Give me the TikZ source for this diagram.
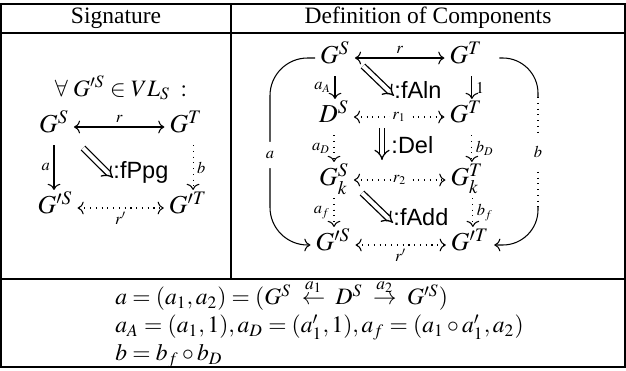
\documentclass[tikz,border=0pt]{standalone}
\usepackage{amsmath}
\usepackage{mathptmx}
\usepackage[no-math]{fontspec}
\setmainfont{Liberation Serif}
\setsansfont{Liberation Sans}
\usetikzlibrary{positioning,arrows.meta,calc}

\begin{document}
\begin{tikzpicture}[
  x=0.4255pt, y=-0.4255pt,
  rule/.style={line width=0.45pt},
  obj/.style={font=\fontsize{11}{13}\selectfont, inner sep=2pt,
              text height=8pt, text depth=3pt},
  lbl/.style={font=\scriptsize, inner sep=1.5pt},
  onlbl/.style={lbl, fill=white, inner xsep=1pt, inner ysep=4pt},
  cd/.style={-{To}, line width=0.45pt},
  cdd/.style={cd, dotted},
  both/.style={{To}-{To}, line width=0.45pt},
  bothd/.style={both, dotted},
  dbl/.style={double, double distance=1.7pt, line width=0.55pt, -{Implies}},
  cmp/.style={font=\sffamily, anchor=west, inner sep=0pt},
]
\useasboundingbox (0,0) rectangle (626,370);

% table
\draw[rule] (1,4) rectangle (625,367);
\draw[rule] (1,33) -- (625,33);
\draw[rule] (1,279) -- (625,279);
\draw[rule] (231,4) -- (231,279);

\node (sighead) at (116,18) {Signature};
\node (defhead) at (428,18) {Definition of Components};

% signature
\node (forall) at (121,88) {$\forall\; G'^S \in VL_S\;:$};
\node[obj] (lGS)  at (54,127)  {$G^S$};
\node[obj] (lGT)  at (186,127) {$G^T$};
\node[obj] (lGpS) at (55,208)  {$G'^S$};
\node[obj] (lGpT) at (188,208) {$G'^T$};

\draw[both]  (lGS) -- node[lbl, above] {$r$} (lGT);
\draw[bothd] (lGpS) -- node[lbl, below] {$r'$} (lGpT);
\draw[cd] (lGS.south) -- node[lbl, left] {$a$} (lGS.south |- lGpS.north);
\draw[cdd] ([xshift=3pt]lGT.south) -- node[lbl, right] {$b$}
  ([xshift=3pt]lGT.south |- lGpT.north);

\node[cmp] (fppg) at (113,172) {:fPpg};
\draw[dbl] ($(fppg.west)+(-30,-24)$) -- ([yshift=-2.5pt]fppg.west);

% components
\node[obj] (GS)  at (335,58)  {$G^S$};
\node[obj] (GT)  at (466,58)  {$G^T$};
\node[obj] (DS)  at (334,117) {$D^S$};
\node[obj] (GT1) at (466,117) {$G^T$};
\node[obj] (GSk) at (334,180) {$G^S_k$};
\node[obj] (GTk) at (467,180) {$G^T_k$};
\node[obj] (GpS) at (333,245) {$G'^S$};
\node[obj] (GpT) at (470,245) {$G'^T$};

\draw[both]  (GS) -- node[lbl, above] {$r$} (GT);
\draw[bothd] (DS) -- node[onlbl, inner ysep=1pt] {$r_1$} (GT1);
\draw[bothd] (GSk) -- node[onlbl, inner ysep=1pt] {$r_2$} (GTk);
\draw[bothd] (GpS) -- node[lbl, below] {$r'$} (GpT);

\draw[cd]  (GS.south) -- node[lbl, left] {$a_A$} (GS.south |- DS.north);
\draw[cdd] (DS.south) -- node[lbl, left] {$a_D$} (DS.south |- GSk.north);
\draw[cdd] (GSk.south) -- node[lbl, left] {$a_f$} (GSk.south |- GpS.north);
\draw[cd]  ([xshift=2.5pt]GT.south) -- node[lbl, right] {$1$}
  ([xshift=2.5pt]GT.south |- GT1.north);
\draw[cdd] ([xshift=2.5pt]GT1.south) -- node[lbl, right] {$b_D$}
  ([xshift=2.5pt]GT1.south |- GTk.north);
\draw[cdd] ([xshift=2.5pt]GTk.south) -- node[lbl, right] {$b_f$}
  ([xshift=2.5pt]GTk.south |- GpT.north);

\node[cmp] (faln) at (394,90) {:fAln};
\draw[dbl] ($(faln.west)+(-31,-24)$) -- ([yshift=-2.5pt]faln.west);
\node[cmp] (del) at (391,145) {:Del};
\draw[dbl] ($(del.west)+(-9,-17)$) -- ($(del.west)+(-9,15)$);
\node[cmp] (fadd) at (393,217) {:fAdd};
\draw[dbl] ($(fadd.west)+(-31,-24)$) -- ([yshift=-2.5pt]fadd.west);

\coordinate (abend) at (270,155);
\coordinate (btop) at (538,97);
\coordinate (bbot) at (538,207);
\draw[cd, rounded corners=16pt] (GS.west) -| (abend) node[onlbl] {$a$}
  |- (GpS.west);
\draw[rule, rounded corners=15pt, shorten <=5pt] (GT.east) -| (btop);
\draw[rule, dotted] (btop) -- node[onlbl] {$b$} (bbot);
\draw[cd, rounded corners=15pt] (bbot) |- (GpT.east);

% definitions
\node[align=left, anchor=west, inner sep=0pt] (defs) at (115,321) {%
  $a = (a_1, a_2) = (G^S \;\overset{a_1\vphantom{|}}{\leftarrow}\;
    D^S \;\overset{a_2\vphantom{|}}{\rightarrow}\; G'^S)$\\
  $a_A = (a_1, 1), a_D = (a'_1, 1), a_f = (a_1 \circ a'_1, a_2)$\\
  $b = b_f \circ b_D$};

\end{tikzpicture}
\end{document}
